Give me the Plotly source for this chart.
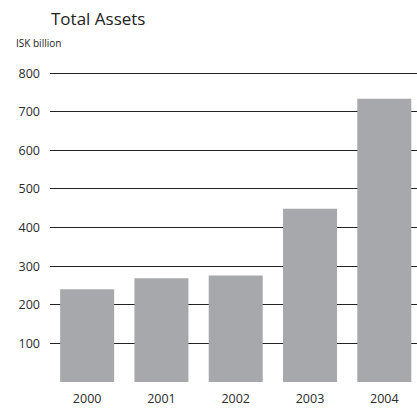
import plotly.graph_objects as go

years = ["2000", "2001", "2002", "2003", "2004"]
total_assets = [240, 269, 276, 449, 734]
y_ticks = [100, 200, 300, 400, 500, 600, 700, 800]

LEFT, RIGHT, TOP, BOTTOM = 50, 0, 72, 26
W, H = 417, 408

fig = go.Figure(
    go.Bar(
        x=years,
        y=total_assets,
        marker=dict(color="#a7a8ab", line=dict(width=0)),
        hoverinfo="x+y",
    )
)

fig.update_layout(
    width=W,
    height=H,
    margin=dict(l=LEFT, r=RIGHT, t=TOP, b=BOTTOM),
    paper_bgcolor="white",
    plot_bgcolor="white",
    bargap=0.273,
    showlegend=False,
    font=dict(family="Open Sans, Noto Sans, sans-serif", color="#2b2b2b", size=12),
    xaxis=dict(
        type="category",
        range=[-0.5, 4.44],
        showgrid=False,
        showline=False,
        ticks="",
        ticklabelstandoff=7,
        tickfont=dict(size=12.5),
    ),
    yaxis=dict(
        range=[0, 803],
        tickvals=y_ticks,
        showgrid=True,
        gridcolor="#222222",
        gridwidth=1,
        zeroline=False,
        showline=False,
        ticks="",
        ticklabelstandoff=9,
        tickfont=dict(size=12.5),
    ),
)

# header texts placed by pixel position, converted to paper coordinates
plot_w = W - LEFT - RIGHT
plot_h = H - TOP - BOTTOM
headers = [
    ("Total Assets", 49, 18, 17),
    ("ISK billion", 14, 43, 10),
]
fig.update_layout(annotations=[
    dict(
        text=text,
        x=(px - LEFT) / plot_w,
        y=(H - BOTTOM - py) / plot_h,
        xref="paper", yref="paper",
        xanchor="left", yanchor="middle",
        showarrow=False,
        font=dict(size=size, color="#222222"),
    )
    for text, px, py, size in headers
])

fig.write_html("out.html")
